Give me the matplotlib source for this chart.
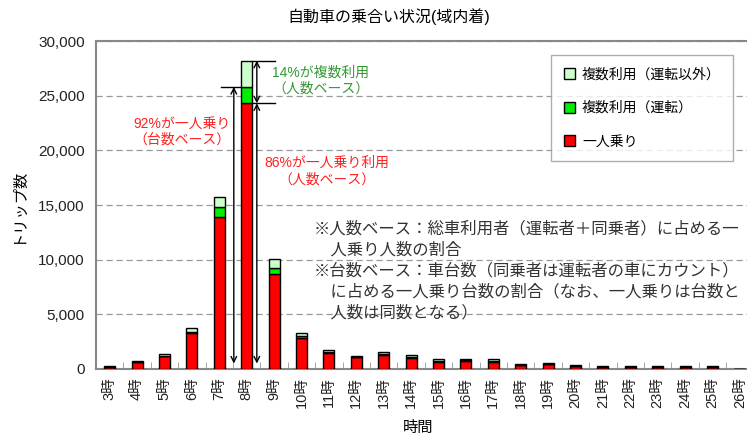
import matplotlib
matplotlib.use("Agg")
import matplotlib.pyplot as plt
import numpy as np

plt.rcParams['font.family'] = ['Liberation Sans', 'Noto Sans CJK JP']

# data
hours = ['3時', '4時', '5時', '6時', '7時', '8時', '9時', '10時', '11時', '12時', '13時', '14時',
         '15時', '16時', '17時', '18時', '19時', '20時', '21時', '22時', '23時', '24時', '25時', '26時']
solo = [180, 600, 1150, 3300, 13900, 24300, 8700, 2880, 1420, 1080, 1300, 1000,
        680, 720, 680, 330, 420, 250, 150, 150, 150, 150, 150, 0]
share_drive = [30, 50, 80, 100, 950, 1500, 500, 120, 100, 60, 80, 80,
               60, 70, 60, 50, 50, 40, 30, 30, 30, 30, 30, 0]
share_other = [60, 80, 120, 330, 900, 2400, 860, 260, 220, 80, 150, 200,
               140, 150, 140, 110, 110, 80, 90, 80, 80, 80, 80, 0]

labels = ['一人乗り', '複数利用（運転）', '複数利用（運転以外）']
colors = ['#ff0000', '#00ee00', '#ccffcc']

fig = plt.figure(figsize=(7.47, 4.38), dpi=100)
ax = fig.add_axes([96 / 747, 69 / 438, 657.6 / 747, 328 / 438])

x = np.arange(len(hours))
w = 0.4
solo = np.array(solo)
share_drive = np.array(share_drive)
share_other = np.array(share_other)

b1 = ax.bar(x, solo, w, color=colors[0], edgecolor='black', linewidth=1, label=labels[0], zorder=3)
b2 = ax.bar(x, share_drive, w, bottom=solo, color=colors[1], edgecolor='black', linewidth=1,
            label=labels[1], zorder=3)
b3 = ax.bar(x, share_other, w, bottom=solo + share_drive, color=colors[2], edgecolor='black',
            linewidth=1, label=labels[2], zorder=3)

ax.set_xlim(-0.5, len(hours) - 0.5)
ax.set_ylim(0, 30000)
ax.set_yticks(np.arange(0, 30001, 5000))
ax.set_yticklabels([f'{v:,}' for v in range(0, 30001, 5000)], fontsize=11, color='#222222')
ax.set_xticks(x)
ax.set_xticklabels(hours, rotation=90, fontsize=10.5, color='#222222')
ax.tick_params(axis='x', which='major', length=0, pad=6)
ax.tick_params(axis='y', length=0, pad=8)
ax.set_xticks(np.arange(-0.5, len(hours), 1), minor=True)
ax.tick_params(axis='x', which='minor', direction='in', length=5, color='#999999')

ax.grid(axis='y', linestyle=(0, (5, 3)), color='#999999', linewidth=0.9, zorder=0)
ax.set_axisbelow(True)
for s in ['top', 'left', 'bottom']:
    ax.spines[s].set_color('#888888')
    ax.spines[s].set_linewidth(1.5)
ax.spines['right'].set_visible(False)

ax.set_ylabel('トリップ数', fontsize=11, labelpad=10)
ax.set_xlabel('時間', fontsize=11)
ax.xaxis.set_label_coords(0.49, -0.158)
fig.text(0.52, 0.962, '自動車の乗合い状況(域内着)', ha='center', va='center', fontsize=11.5)

leg = ax.legend(handles=[b3, b2, b1], loc='upper right', bbox_to_anchor=(0.969, 0.957),
                fontsize=10, frameon=True, fancybox=False, edgecolor='#999999',
                labelspacing=1.4, handlelength=0.8, handleheight=0.8, handletextpad=0.5,
                borderpad=0.9, borderaxespad=0)
leg.get_frame().set_linewidth(1)

# arrows and guide lines around 8時
arr = dict(arrowstyle='<->', color='black', lw=1, shrinkA=0, shrinkB=0)
ax.annotate('', xy=(4.53, 25800), xytext=(4.53, 500), arrowprops=arr)
ax.annotate('', xy=(5.37, 24300), xytext=(5.37, 500), arrowprops=arr)
ax.annotate('', xy=(5.37, 28200), xytext=(5.37, 24300), arrowprops=arr)
ax.plot([4.05, 4.8], [25800, 25800], color='black', lw=1)
ax.plot([5.2, 6.05], [28200, 28200], color='black', lw=1)
ax.plot([5.2, 6.05], [24300, 24300], color='black', lw=1)

ax.text(7.71, 26400, '14%が複数利用\n（人数ベース）', ha='center', va='center', fontsize=10,
        color='#339933', linespacing=1.2)
ax.text(2.63, 21700, '92%が一人乗り\n（台数ベース）', ha='center', va='center', fontsize=10,
        color='#ff2222', linespacing=1.2)
ax.text(7.93, 18100, '86%が一人乗り利用\n（人数ベース）', ha='center', va='center', fontsize=10,
        color='#ff2222', linespacing=1.2)

note = ('※人数ベース：総車利用者（運転者＋同乗者）に占める一\n'
        '　人乗り人数の割合\n'
        '※台数ベース：車台数（同乗者は運転者の車にカウント）\n'
        '　に占める一人乗り台数の割合（なお、一人乗りは台数と\n'
        '　人数は同数となる）')
ax.text(7.46, 13550, note, ha='left', va='top', fontsize=11.8, color='#333333', linespacing=1.42)

fig.savefig('out.png', dpi=100)
